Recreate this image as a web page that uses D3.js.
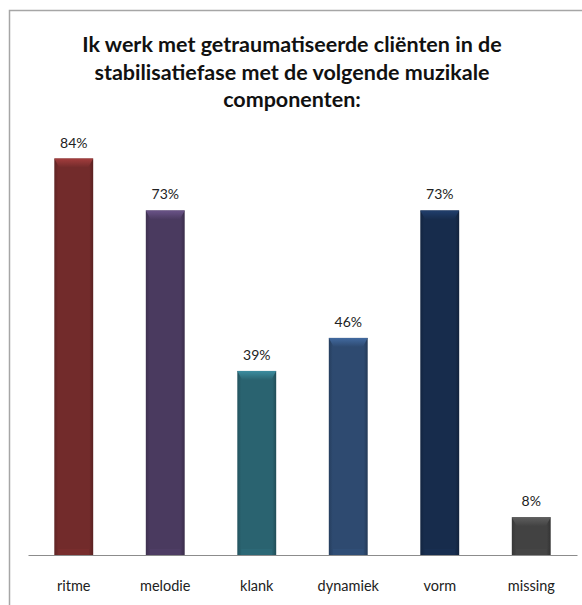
<!DOCTYPE html>
<html>
<head>
<meta charset="utf-8">
<script src="https://cdn.jsdelivr.net/npm/d3@7"></script>
<style>
  html, body { margin: 0; padding: 0; background: #fff; }
  svg { display: block; font-family: Lato, "Open Sans", "Liberation Sans", sans-serif; }
</style>
</head>
<body>
<svg id="chart" width="582" height="605"></svg>
<script>
// Muzikale componenten en percentages
const categories = ["ritme", "melodie", "klank", "dynamiek", "vorm", "missing"];
const values = [84, 73, 39, 46, 73, 8];
const colors = ["#722b2b", "#4a3a5f", "#2a6370", "#2e4a70", "#172c4c", "#424242"];
const titleLines = [
  "Ik werk met getraumatiseerde cliënten in de",
  "stabilisatiefase met de volgende muzikale",
  "componenten:"
];

const svg = d3.select("#chart");
const W = 582, H = 605;
const plot = { left: 28, right: 577, top: 83, bottom: 555 };

// Chart frame
svg.append("rect")
  .attr("x", 9.5).attr("y", 10.5)
  .attr("width", W + 20).attr("height", H + 20)
  .attr("fill", "none").attr("stroke", "#a6a6a6").attr("stroke-width", 1.5);

// Title
svg.append("g").selectAll("text").data(titleLines).join("text")
  .attr("x", 292).attr("y", (d, i) => 52 + i * 27.5)
  .attr("text-anchor", "middle")
  .attr("font-size", 21.5).attr("font-weight", "bold").attr("fill", "#111")
  .text(d => d);

const x = d3.scaleBand().domain(categories)
  .range([plot.left, plot.right]).paddingInner(0.575).paddingOuter(0.2875);
const y = d3.scaleLinear().domain([0, 100]).range([plot.bottom, plot.top]);

// Bevel gradients per bar
const defs = svg.append("defs");
categories.forEach((c, i) => {
  const base = d3.color(colors[i]);
  const g = defs.append("linearGradient").attr("id", "side" + i)
    .attr("x1", 0).attr("x2", 1).attr("y1", 0).attr("y2", 0);
  g.append("stop").attr("offset", "0%").attr("stop-color", base.darker(0.5));
  g.append("stop").attr("offset", "10%").attr("stop-color", base);
  g.append("stop").attr("offset", "90%").attr("stop-color", base);
  g.append("stop").attr("offset", "100%").attr("stop-color", base.darker(0.7));
  const t = defs.append("linearGradient").attr("id", "cap" + i)
    .attr("x1", 0).attr("x2", 0).attr("y1", 0).attr("y2", 1);
  t.append("stop").attr("offset", "0%").attr("stop-color", base.brighter(1.0));
  t.append("stop").attr("offset", "45%").attr("stop-color", base.brighter(0.6));
  t.append("stop").attr("offset", "100%").attr("stop-color", base);
});

const bars = svg.append("g").selectAll("g").data(categories).join("g");

bars.append("rect")
  .attr("x", d => x(d)).attr("width", x.bandwidth())
  .attr("y", (d, i) => y(values[i]))
  .attr("height", (d, i) => y(0) - y(values[i]))
  .attr("fill", (d, i) => `url(#side${i})`);

// Top bevel
bars.append("path")
  .attr("d", (d, i) => {
    const x0 = x(d), x1 = x(d) + x.bandwidth(), yt = y(values[i]), b = 9;
    return `M${x0},${yt}L${x1},${yt}L${x1 - 5},${yt + b}L${x0 + 5},${yt + b}Z`;
  })
  .attr("fill", (d, i) => `url(#cap${i})`);

// Bottom bevel
bars.append("rect")
  .attr("x", d => x(d) + 4).attr("width", x.bandwidth() - 8)
  .attr("y", y(0) - 6).attr("height", 6)
  .attr("fill", (d, i) => d3.color(colors[i]).brighter(0.25))
  .attr("opacity", 0.6);

// Baseline axis
const axis = svg.append("g").attr("transform", `translate(0,${plot.bottom})`)
  .call(d3.axisBottom(x).tickSize(0).tickPadding(26));
axis.select(".domain").attr("stroke", "#8c8c8c").attr("stroke-width", 1.2);
axis.selectAll("text").attr("font-size", 14.5).attr("fill", "#222")
  .attr("font-family", 'Lato, "Open Sans", sans-serif');

// Value labels
svg.append("g").selectAll("text").data(categories).join("text")
  .attr("x", d => x(d) + x.bandwidth() / 2)
  .attr("y", (d, i) => y(values[i]) - 11)
  .attr("text-anchor", "middle")
  .attr("font-size", 14).attr("fill", "#222")
  .text((d, i) => values[i] + "%");
</script>
</body>
</html>
